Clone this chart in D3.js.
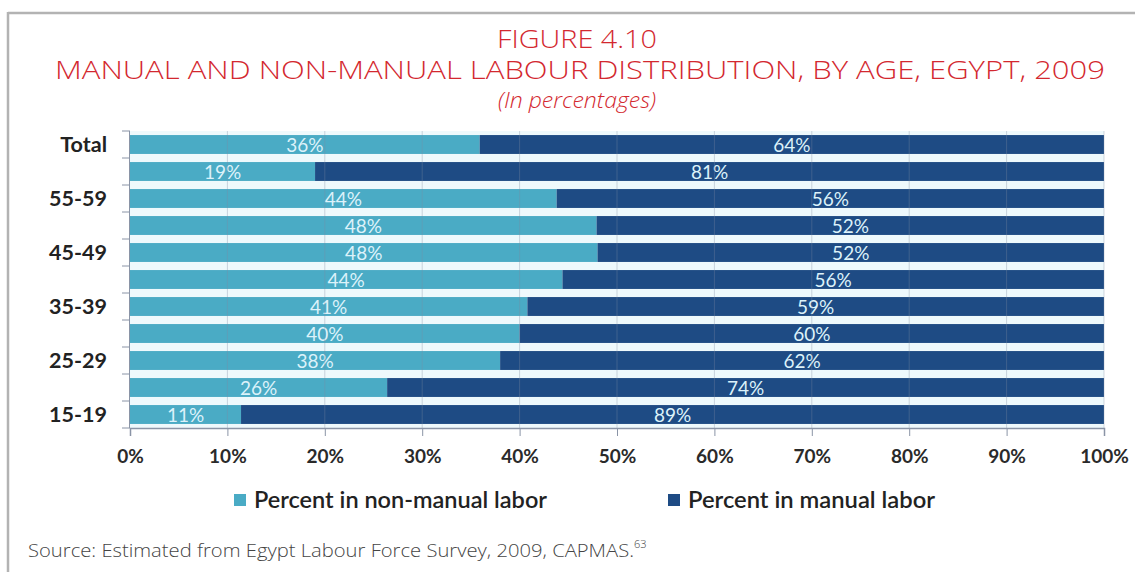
<!DOCTYPE html>
<html>
<head>
<meta charset="utf-8">
<script src="https://cdn.jsdelivr.net/npm/d3@7/dist/d3.min.js"></script>
<style>
  html, body { margin: 0; padding: 0; background: #fff; }
  svg { display: block; }
</style>
</head>
<body>
<svg id="chart" width="1135" height="572"></svg>
<script>
// ---- data ----
const categories = ["Total", "60-64", "55-59", "50-54", "45-49", "40-44", "35-39", "30-34", "25-29", "20-24", "15-19"];
const shownLabels = ["Total", "55-59", "45-49", "35-39", "25-29", "15-19"];
const nonManual = [35.9, 19.0, 43.8, 47.9, 48.0, 44.4, 40.8, 40.0, 38.0, 26.4, 11.4];
const manual    = [64.1, 81.0, 56.2, 52.1, 52.0, 55.6, 59.2, 60.0, 62.0, 73.6, 88.6];
const seriesNames = ["Percent in non-manual labor", "Percent in manual labor"];
const xTicks = [0, 10, 20, 30, 40, 50, 60, 70, 80, 90, 100];
const titleLines = ["FIGURE 4.10", "MANUAL AND NON-MANUAL LABOUR DISTRIBUTION, BY AGE, EGYPT, 2009", "(In percentages)"];
const sourceText = "Source: Estimated from Egypt Labour Force Survey, 2009, CAPMAS.";
const sourceNote = "63";

// ---- styles ----
const colNon = "#4aabc5";
const colMan = "#1e4b84";
const red = "#d3282f";
const font = "Lato, 'Open Sans', sans-serif";

const svg = d3.select("#chart");

// frame
svg.append("line").attr("x1", 8).attr("x2", 1135).attr("y1", 13).attr("y2", 13)
  .attr("stroke", "#b3b3b3").attr("stroke-width", 2.5);
svg.append("line").attr("x1", 8).attr("x2", 8).attr("y1", 12).attr("y2", 572)
  .attr("stroke", "#b3b3b3").attr("stroke-width", 2.5);

// titles
svg.append("text").text(titleLines[0]).attr("x", 497).attr("y", 48)
  .attr("font-family", "'Open Sans', sans-serif").attr("font-weight", 300)
  .attr("font-size", 25).attr("fill", red).attr("textLength", 160).attr("lengthAdjust", "spacingAndGlyphs");
svg.append("text").text(titleLines[1]).attr("x", 55).attr("y", 79)
  .attr("font-family", "'Open Sans', sans-serif").attr("font-weight", 300)
  .attr("font-size", 25).attr("fill", red).attr("textLength", 1050).attr("lengthAdjust", "spacingAndGlyphs");
svg.append("text").text(titleLines[2]).attr("x", 498).attr("y", 108)
  .attr("font-family", "'Open Sans', sans-serif").attr("font-weight", 300)
  .attr("font-style", "italic")
  .attr("font-size", 22).attr("fill", red).attr("textLength", 158).attr("lengthAdjust", "spacingAndGlyphs");

// scales
const x = d3.scaleLinear().domain([0, 100]).range([130, 1104]);
const y = d3.scaleBand().domain(categories).range([131, 428]).paddingInner(0.3).paddingOuter(0.15);

// plot background
svg.append("rect").attr("x", x(0)).attr("y", 131).attr("width", x(100) - x(0)).attr("height", 297)
  .attr("fill", "#eef9fc");

// bars
const rows = categories.map((c, i) => ({ cat: c, non: nonManual[i], man: manual[i] }));
const g = svg.append("g");
g.selectAll("rect.non").data(rows).join("rect")
  .attr("class", "non")
  .attr("x", x(0)).attr("y", d => y(d.cat))
  .attr("width", d => x(d.non) - x(0)).attr("height", y.bandwidth())
  .attr("fill", colNon);
g.selectAll("rect.man").data(rows).join("rect")
  .attr("class", "man")
  .attr("x", d => x(d.non)).attr("y", d => y(d.cat))
  .attr("width", d => x(d.non + d.man) - x(d.non)).attr("height", y.bandwidth())
  .attr("fill", colMan);

// gridlines (faint, over bars)
svg.append("g").selectAll("line").data(xTicks.slice(1)).join("line")
  .attr("x1", d => x(d)).attr("x2", d => x(d)).attr("y1", 131).attr("y2", 428)
  .attr("stroke", "#7d8aa0").attr("stroke-opacity", 0.35).attr("stroke-width", 1);

// value labels
const labStyle = sel => sel.attr("text-anchor", "middle").attr("font-family", font)
  .attr("font-size", 19).attr("fill", "#dcf2fa").attr("dy", "0.36em");
g.selectAll("text.non").data(rows).join("text").attr("class", "non")
  .attr("x", d => (x(0) + x(d.non)) / 2).attr("y", d => y(d.cat) + y.bandwidth() / 2 + 1)
  .text(d => Math.round(d.non) + "%").call(labStyle);
g.selectAll("text.man").data(rows).join("text").attr("class", "man")
  .attr("x", d => (x(d.non) + x(d.non + d.man)) / 2).attr("y", d => y(d.cat) + y.bandwidth() / 2 + 1)
  .text(d => Math.round(d.man) + "%").call(labStyle);

// x axis
const xAxis = svg.append("g").attr("transform", "translate(0,428)")
  .call(d3.axisBottom(x).tickValues(xTicks).tickFormat(d => d + "%").tickSize(8).tickPadding(14));
xAxis.select(".domain").attr("stroke", "#8a94a6").attr("stroke-width", 1.5);
xAxis.selectAll(".tick line").attr("stroke", "#8a94a6");
xAxis.selectAll("text").attr("font-family", font).attr("font-weight", 700)
  .attr("font-size", 19).attr("fill", "#2a2a2a");

// y axis: ticks at category boundaries
const bounds = d3.range(categories.length + 1).map(i => 131 + i * y.step());
svg.append("g").selectAll("line").data(bounds).join("line")
  .attr("x1", 122).attr("x2", 130).attr("y1", d => d).attr("y2", d => d)
  .attr("stroke", "#8a94a6").attr("stroke-width", 1);
svg.append("line").attr("x1", 129.5).attr("x2", 129.5).attr("y1", 131).attr("y2", 428)
  .attr("stroke", "#8a94a6").attr("stroke-width", 1);
svg.append("g").selectAll("text").data(categories.filter(c => shownLabels.includes(c))).join("text")
  .attr("x", 107).attr("y", d => y(d) + y.bandwidth() / 2).attr("dy", "0.36em")
  .attr("text-anchor", "end").attr("font-family", font).attr("font-weight", 700)
  .attr("font-size", 21.5).attr("fill", "#222")
  .text(d => d);

// legend
const legend = svg.append("g");
const legItems = [{ name: seriesNames[0], col: colNon, x: 234, w: 293 }, { name: seriesNames[1], col: colMan, x: 668, w: 247 }];
legend.selectAll("rect").data(legItems).join("rect")
  .attr("x", d => d.x).attr("y", 494).attr("width", 12).attr("height", 12).attr("fill", d => d.col);
legend.selectAll("text").data(legItems).join("text")
  .attr("x", d => d.x + 20).attr("y", 500).attr("dy", "0.36em")
  .attr("font-family", font).attr("font-weight", 600).attr("font-size", 23).attr("fill", "#222")
  .attr("textLength", d => d.w).attr("lengthAdjust", "spacingAndGlyphs")
  .text(d => d.name);

// source
const src = svg.append("text").attr("x", 28).attr("y", 557)
  .attr("font-family", "'Open Sans', sans-serif").attr("font-weight", 300)
  .attr("font-size", 19).attr("fill", "#444");
src.append("tspan").text(sourceText).attr("textLength", 606).attr("lengthAdjust", "spacingAndGlyphs");
src.append("tspan").text(sourceNote).attr("font-size", 11).attr("dy", -9);
</script>
</body>
</html>
